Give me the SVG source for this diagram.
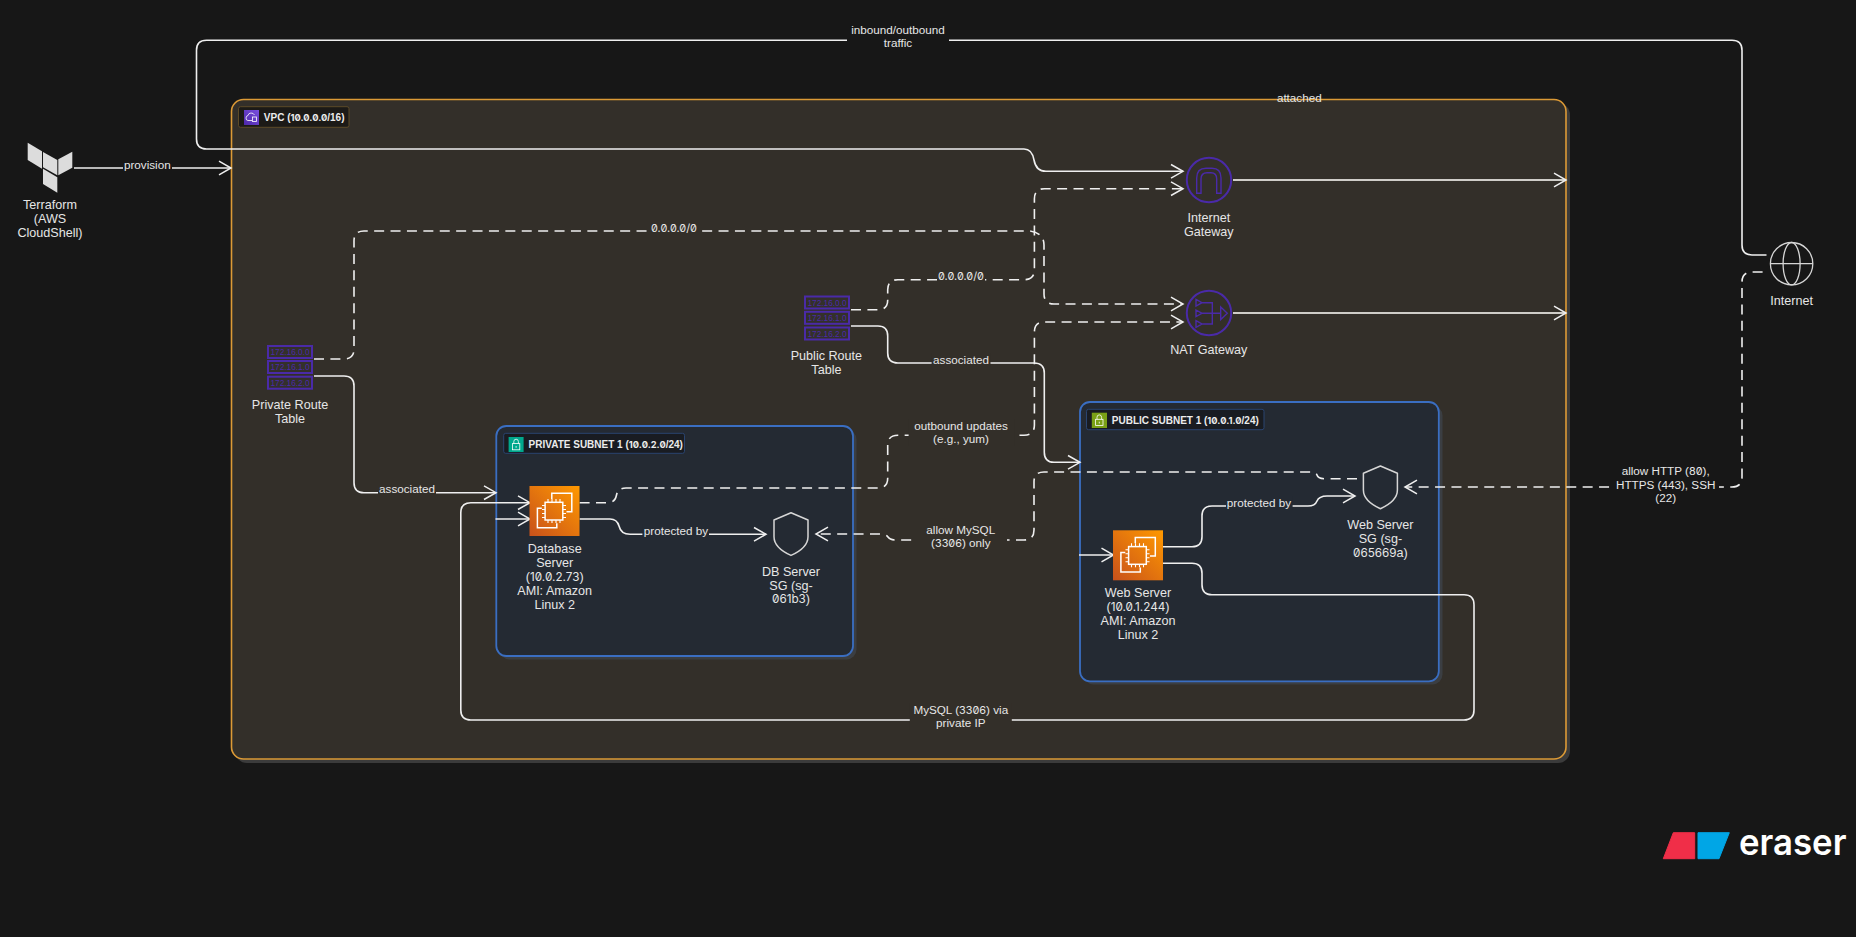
<svg xmlns="http://www.w3.org/2000/svg" width="1856" height="937" viewBox="0 0 1856 937">
<style>
text{font-family:"Liberation Sans",Arial,sans-serif;fill:#e6e6e6;text-anchor:middle}
.n{font-size:12.6px;transform:translateY(4.4px)}
.e{font-size:11.7px;transform:translateY(4.1px)}
.z{font-family:Inter,"DejaVu Sans",sans-serif;font-feature-settings:"zero";font-size:.93em}
.t{font-size:10px;font-weight:700;text-anchor:start;fill:#ececec;transform:translateY(3.5px)}
.c{fill:none;stroke:#efefef;stroke-width:1.6}
.d{stroke-dasharray:10 6.4}
.a{marker-end:url(#arrow)}
.pu{fill:none;stroke:#4a2aa8;stroke-width:2}
.pt{fill:none;stroke:#4a2aa8;stroke-width:1.4}
.rt{fill:#33302a;stroke:#4a2aa8;stroke-width:2}
.rx{font-size:9px;fill:#4a2aa8;transform:translateY(3.1px)}
.sh{fill:none;stroke:#d6d6d6;stroke-width:1.5;stroke-linejoin:round}
</style>
<defs>
<marker id="arrow" markerUnits="userSpaceOnUse" markerWidth="16" markerHeight="18" viewBox="-14 -9 16 18" refX="0" refY="0" orient="auto">
<path d="M-12 -6.8L0 0L-12 6.8" fill="none" stroke="#efefef" stroke-width="1.5"/>
</marker>
<linearGradient id="ec2" x1="0" y1="1" x2="1" y2="0">
<stop offset="0" stop-color="#c8511b"/><stop offset="1" stop-color="#ff9900"/>
</linearGradient>
<linearGradient id="vpcg" x1="0" y1="1" x2="1" y2="0">
<stop offset="0" stop-color="#4d27a8"/><stop offset="1" stop-color="#7a4fe0"/>
</linearGradient>
<g id="compute">
<rect width="50" height="50" fill="url(#ec2)"/>
<g fill="none" stroke="#fff" stroke-width="1.5">
<rect x="15.6" y="16.3" width="17.7" height="17.7"/>
<path d="M22.3 13V7.3H42.3V25.7H37"/>
<path d="M12.3 22.3H7.9V41.7H27.3V37.3"/>
<path d="M18.5 16V13M22.5 16V13M26.5 16V13M30.5 16V13M18.5 37V34M22.5 37V34M26.5 37V34M30.5 37V34M12.5 19.5H15.5M12.5 23.5H15.5M12.5 27.5H15.5M12.5 31.5H15.5M33.5 19.5H36.5M33.5 23.5H36.5M33.5 27.5H36.5M33.5 31.5H36.5" stroke-width="1.1"/>
</g>
</g>
<path id="shield" d="M0 0L17 7.3V24Q17 35 0 42.7Q-17 35 -17 24V7.3Z"/>
<g id="lock" fill="none" stroke="#fff" stroke-width=".8">
<rect x="3.8" y="6.6" width="7.4" height="6.2"/>
<path d="M5.2 6.6V4.6Q5.2 2.2 7.5 2.2Q9.8 2.2 9.8 4.6V6.6"/>
<path d="M7.5 9V10.8"/>
</g>
</defs>
<rect id="background" width="1856" height="937" fill="#171717"/>

<g id="vpc">
<rect x="235" y="103" width="1335" height="660" rx="12" fill="#3b3b3b"/>
<rect x="231.5" y="99.5" width="1334.5" height="659.5" rx="12" fill="#332f29" stroke="#dc9a36" stroke-width="1.6"/>
<rect x="238.5" y="106.7" width="110.5" height="20.6" rx="2" fill="#1c1a17" stroke="#5c4a28"/>
<rect x="244" y="110" width="15" height="15" fill="url(#vpcg)"/>
<g fill="none" stroke="#fff" stroke-width=".8"><path d="M252 120.5H248Q246 120.5 246 118Q246 115.8 248 115.5Q248.5 113 251 113Q253.5 113 254.5 115"/><rect x="252.5" y="117" width="4" height="4.5"/></g>
<text class="t" x="263.8" y="117.3">VPC (<tspan class="z">10.0.0.0</tspan>/16)</text>
</g>

<g id="private-subnet">
<rect x="499.5" y="429.5" width="357" height="230" rx="10" fill="#3b3e42"/>
<rect x="496.3" y="426" width="356.7" height="230" rx="10" fill="#242a33" stroke="#3a6ec2" stroke-width="1.8"/>
<rect x="503.7" y="433.3" width="180.8" height="20" rx="2" fill="#191c22" stroke="#2a4470"/>
<rect x="508.6" y="437" width="15" height="15" fill="#01a88d"/>
<use href="#lock" x="508.6" y="437"/>
<text class="t" x="528.6" y="444.3">PRIVATE SUBNET 1 (<tspan class="z">10.0.2.0</tspan>/24)</text>
</g>

<g id="public-subnet">
<rect x="1083.5" y="405.5" width="359" height="279" rx="10" fill="#3b3e42"/>
<rect x="1080" y="402" width="358.8" height="279.3" rx="10" fill="#242a33" stroke="#3a6ec2" stroke-width="1.8"/>
<rect x="1086.5" y="409.3" width="177.5" height="20.4" rx="2" fill="#191c22" stroke="#2a4470"/>
<rect x="1091.8" y="412.7" width="15.2" height="15.3" fill="#7aa116"/>
<use href="#lock" x="1091.8" y="412.7"/>
<text class="t" x="1111.8" y="420">PUBLIC SUBNET 1 (<tspan class="z">10.0.1.0</tspan>/24)</text>
</g>

<g id="connectors">
<path class="c a" d="M74 168H231"/>
<path class="c a" d="M1766.5 255H1752Q1742 255 1742 245V50.3Q1742 40.3 1732 40.3H206.5Q196.5 40.3 196.5 50.3V139Q196.5 149 206.5 149H1024Q1032 149 1034 160Q1036 171.3 1046 171.3H1183"/>
<path class="c a" style="stroke:#cfcdc8;stroke-width:2" d="M1233 180H1566"/>
<path class="c a" style="stroke:#cfcdc8;stroke-width:2" d="M1233 313H1566"/>
<path class="c d a" d="M314 359H344Q354 359 354 349V241Q354 231 364 231H1030Q1044 233 1044 245V294Q1044 304 1054 304H1183"/>
<path class="c d a" d="M851 309.7H878Q887.7 309.7 887.7 300V289.7Q887.7 279.7 898 279.7H1024Q1034.4 279.7 1034.4 269.7V198.7Q1034.4 188.7 1044.4 188.7H1183"/>
<path class="c a" d="M851 326H878Q887.7 326 887.7 336V353Q887.7 363 898 363H1034Q1044.3 363 1044.3 373V452.3Q1044.3 462.3 1054 462.3H1080"/>
<path class="c d a" d="M579.6 502.7H608Q615 502.7 616.5 495Q618 488 626 488H878Q887.7 488 887.7 478V445Q887.7 435.3 898 435.3H1024Q1034.4 435.3 1034.4 425V332Q1034.4 322 1044 322H1183"/>
<path class="c d a" d="M1357 478.7H1325Q1318 478.7 1317 475Q1316 472 1310 472H1044Q1034 472 1034 482V530Q1034 540 1024 540H896Q890 540 888 537Q886 534 880 534H816"/>
<path class="c d a" d="M1762.6 272H1752Q1742 272 1742 282V477Q1742 487 1732 487H1405"/>
<path class="c a" d="M314 376H344Q354 376 354 386V482.7Q354 492.7 364 492.7H496"/>
<path class="c a" d="M1163 563.3H1192Q1202 563.3 1202 573.3V584.7Q1202 594.7 1212 594.7H1464Q1474 594.7 1474 604.7V710Q1474 720 1464 720H470.8Q460.8 720 460.8 710V512.7Q460.8 502.7 470.8 502.7H530"/>
<path class="c a" d="M579.6 519H610Q617 519 619 526Q621 534.3 630 534.3H766"/>
<path class="c a" d="M1163 546.7H1192Q1202 546.7 1202 536.7V516Q1202 506 1212 506H1308Q1315 506 1317 501Q1319 496 1327 496H1355"/>
<path class="c a" d="M495.5 519H530"/>
<path class="c a" d="M1079 555H1113.5"/>

<g id="connector-labels">
<rect x="123" y="160" width="49" height="14" fill="#171717"/>
<text class="e" x="147.3" y="164.5">provision</text>
<rect x="847" y="22" width="102" height="28" fill="#171717"/>
<text class="e" x="898" y="30">inbound/outbound</text>
<text class="e" x="898" y="42.7">traffic</text>
<text class="e" x="1299.3" y="98.3">attached</text>
<rect x="650" y="221" width="48" height="14" fill="#332f29"/>
<text class="e" x="674" y="228"><tspan class="z">0.0.0.0/0</tspan></text>
<rect x="937" y="269" width="48" height="14" fill="#332f29"/>
<text class="e" x="961" y="276"><tspan class="z">0.0.0.0/0</tspan></text>
<rect x="931.6" y="353" width="58.9" height="14" fill="#332f29"/>
<text class="e" x="961" y="360">associated</text>
<rect x="908.6" y="419" width="106" height="27" fill="#332f29"/>
<text class="e" x="961" y="426">outbound updates</text>
<text class="e" x="961" y="439">(e.g., yum)</text>
<rect x="916" y="523" width="91" height="27" fill="#332f29"/>
<text class="e" x="960.8" y="530">allow MySQL</text>
<text class="e" x="960.8" y="543.3">(<tspan class="z">3306</tspan>) only</text>
<rect x="1614" y="464" width="105" height="41" fill="#171717"/>
<text class="e" x="1665.7" y="471">allow HTTP (<tspan class="z">80</tspan>),</text>
<text class="e" x="1665.7" y="485">HTTPS (443), SSH</text>
<text class="e" x="1665.7" y="498">(22)</text>
<rect x="378" y="482" width="58" height="14" fill="#332f29"/>
<text class="e" x="407" y="489.3">associated</text>
<rect x="642.4" y="524" width="66.6" height="14" fill="#242a33"/>
<text class="e" x="676" y="531">protected by</text>
<rect x="1226" y="496" width="66.6" height="14" fill="#242a33"/>
<text class="e" x="1259" y="503">protected by</text>
<rect x="909.8" y="703" width="102" height="27" fill="#332f29"/>
<text class="e" x="960.8" y="710">MySQL (<tspan class="z">3306</tspan>) via</text>
<text class="e" x="960.8" y="723.3">private IP</text>
</g>
</g>

<g id="terraform">
<g fill="#dcdcdc">
<path d="M27.7 142.7L42 151.3V168.7L27.7 160Z"/>
<path d="M43 152L57.3 160V175.3L43 167.3Z"/>
<path d="M58.3 159.3L72.3 151.7V167.7L58.3 175.3Z"/>
<path d="M43 168.7L57.3 177.3V192.7L43 184Z"/>
</g>
<text class="n" x="50" y="205">Terraform</text>
<text class="n" x="50" y="219">(AWS</text>
<text class="n" x="50" y="233">CloudShell)</text>
</g>

<g id="private-route-table">
<rect class="rt" x="268" y="346" width="44" height="12"/>
<text class="rx" x="290" y="352" textLength="39" lengthAdjust="spacingAndGlyphs">172.16.0.0</text>
<rect class="rt" x="268" y="361" width="44" height="12"/>
<text class="rx" x="290" y="367" textLength="39" lengthAdjust="spacingAndGlyphs">172.16.1.0</text>
<rect class="rt" x="268" y="376.7" width="44" height="12"/>
<text class="rx" x="290" y="382.7" textLength="39" lengthAdjust="spacingAndGlyphs">172.16.2.0</text>
<text class="n" x="290" y="404.7">Private Route</text>
<text class="n" x="290" y="418.7">Table</text>
</g>

<g id="public-route-table">
<rect class="rt" x="805" y="296.5" width="44" height="12"/>
<text class="rx" x="827" y="302.5" textLength="39" lengthAdjust="spacingAndGlyphs">172.16.0.0</text>
<rect class="rt" x="805" y="311.8" width="44" height="12"/>
<text class="rx" x="827" y="317.8" textLength="39" lengthAdjust="spacingAndGlyphs">172.16.1.0</text>
<rect class="rt" x="805" y="327.5" width="44" height="12"/>
<text class="rx" x="827" y="333.5" textLength="39" lengthAdjust="spacingAndGlyphs">172.16.2.0</text>
<text class="n" x="826.4" y="355.3">Public Route</text>
<text class="n" x="826.4" y="369.3">Table</text>
</g>

<g id="internet-gateway">
<circle class="pu" cx="1209" cy="180" r="22.2"/>
<path class="pt" d="M1196.7 193.3V178Q1196.7 168.3 1206 168.3H1212Q1221 168.3 1221 178V193.3H1216.7V179Q1216.7 172.7 1211 172.7H1207Q1201 172.7 1201 179V193.3Z"/>
<text class="n" x="1208.8" y="217.3">Internet</text>
<text class="n" x="1208.8" y="231.3">Gateway</text>
</g>

<g id="nat-gateway">
<circle class="pu" cx="1209" cy="313" r="22.2"/>
<path class="pt" d="M1196 299.4L1202 302.7L1196 306ZM1196 310L1202 313.3L1196 316.6ZM1196 320.7L1202 324L1196 327.3ZM1202 302.7H1212.3V324H1202M1202 313.3H1220.7M1220.7 307L1227.3 313.3L1220.7 319.6Z"/>
<text class="n" x="1208.8" y="350">NAT Gateway</text>
</g>

<g id="internet">
<g fill="none" stroke="#d6d6d6" stroke-width="1.3">
<circle cx="1791.6" cy="263.7" r="21.2"/>
<ellipse cx="1791.6" cy="263.7" rx="8.5" ry="21.2"/>
<path d="M1770.4 263.7H1812.8"/>
</g>
<text class="n" x="1791.6" y="301">Internet</text>
</g>

<g id="database-server">
<use href="#compute" x="529.5" y="486"/>
<text class="n" x="554.7" y="548.3">Database</text>
<text class="n" x="554.7" y="562.3">Server</text>
<text class="n" x="554.7" y="576.3">(<tspan class="z">10.0.2.73</tspan>)</text>
<text class="n" x="554.7" y="590.3">AMI: Amazon</text>
<text class="n" x="554.7" y="604.3">Linux 2</text>
</g>

<g id="db-server-sg">
<use class="sh" href="#shield" x="791" y="512.7"/>
<text class="n" x="791" y="571.3">DB Server</text>
<text class="n" x="791" y="585.3">SG (sg-</text>
<text class="n" x="791" y="599"><tspan class="z">061b3</tspan>)</text>
</g>

<g id="web-server">
<use href="#compute" x="1113" y="530.3"/>
<text class="n" x="1138" y="592.7">Web Server</text>
<text class="n" x="1138" y="606.7">(<tspan class="z">10.0.1.244</tspan>)</text>
<text class="n" x="1138" y="620.7">AMI: Amazon</text>
<text class="n" x="1138" y="634.7">Linux 2</text>
</g>

<g id="web-server-sg">
<use class="sh" href="#shield" x="1380.4" y="466"/>
<text class="n" x="1380.4" y="524.3">Web Server</text>
<text class="n" x="1380.4" y="538.3">SG (sg-</text>
<text class="n" x="1380.4" y="552.3"><tspan class="z">065669</tspan>a)</text>
</g>

<g id="eraser-logo">
<path d="M1673.3 832.7H1694.7V858.7H1663.3Z" fill="#f02e48" stroke="#f02e48" stroke-linejoin="round"/>
<path d="M1698 832.7H1729.3L1719 858.7H1698Z" fill="#00a6e6" stroke="#00a6e6" stroke-linejoin="round"/>
<text x="1739" y="855" style="font-family:Inter,'Liberation Sans',sans-serif;font-size:36px;font-weight:600;fill:#fff;text-anchor:start" textLength="107.5" lengthAdjust="spacingAndGlyphs">eraser</text>
</g>
</svg>
